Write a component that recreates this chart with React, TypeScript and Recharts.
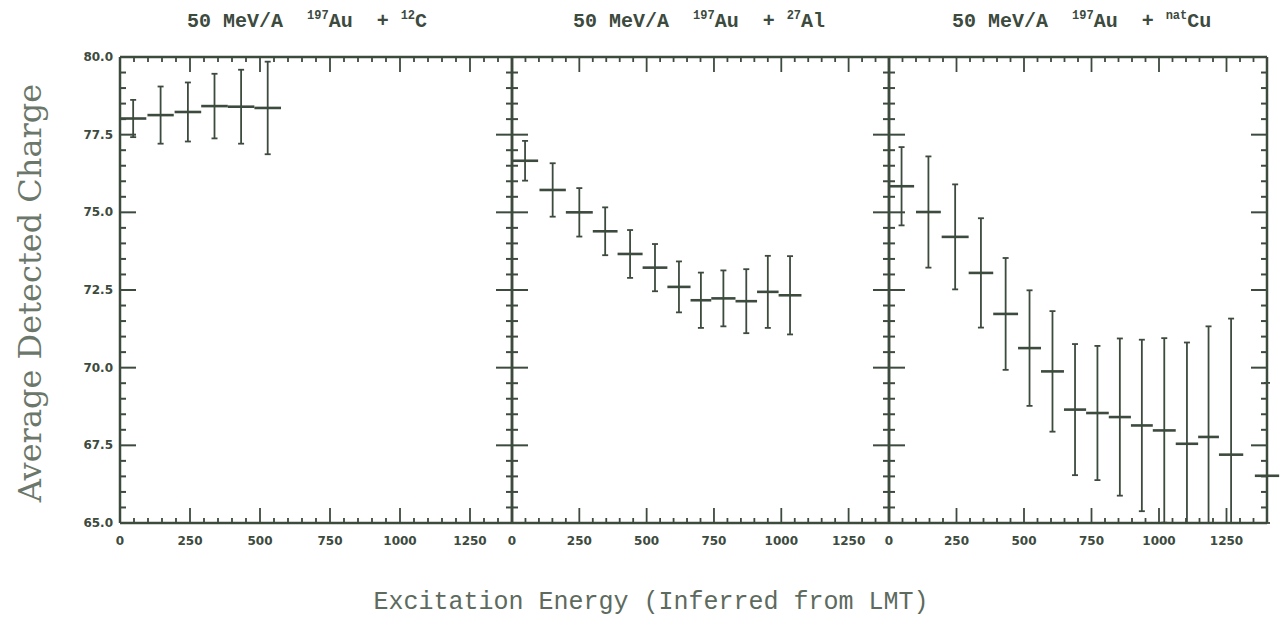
import React from 'react';
import { ScatterChart, Scatter, XAxis, YAxis, ErrorBar } from 'recharts';

// 50 MeV/A 197Au + 12C
const carbonBinLo = [0, 98, 195, 290, 385, 480];
const carbonBinHi = [94, 192, 290, 385, 480, 575];
const carbonCharge = [78.02, 78.13, 78.23, 78.42, 78.4, 78.36];
const carbonErr = [0.6, 0.92, 0.95, 1.04, 1.19, 1.49];

// 50 MeV/A 197Au + 27Al
const alBinLo = [0, 102, 200, 300, 392, 485, 577, 663, 740, 830, 910, 990];
const alBinHi = [97, 200, 300, 392, 485, 577, 663, 740, 830, 910, 990, 1075];
const alCharge = [76.66, 75.72, 75.0, 74.39, 73.66, 73.22, 72.6, 72.17, 72.23, 72.14, 72.44, 72.33];
const alErr = [0.64, 0.86, 0.78, 0.77, 0.77, 0.76, 0.82, 0.89, 0.9, 1.03, 1.16, 1.26];

// 50 MeV/A 197Au + natCu
const cuBinLo = [0, 100, 195, 295, 386, 478, 563, 648, 730, 814, 896, 977, 1062, 1145, 1222, 1355];
const cuBinHi = [93, 192, 295, 386, 478, 563, 648, 730, 814, 896, 977, 1062, 1145, 1222, 1312, 1445];
const cuCharge = [75.84, 75.01, 74.21, 73.05, 71.73, 70.63, 69.88, 68.65, 68.54, 68.41, 68.14, 67.98, 67.55, 67.77, 67.2, 66.52];
const cuErr = [1.26, 1.79, 1.69, 1.76, 1.8, 1.86, 1.94, 2.11, 2.16, 2.53, 2.76, 2.97, 3.26, 3.56, 4.38, 2.99];

const xMajorTicks = [0, 250, 500, 750, 1000, 1250];
const yMajorTicks = [65, 67.5, 70, 72.5, 75, 77.5, 80];

const INK = '#3d4a3e';
const X_MAX = 1400;
const Y_MIN = 65;
const Y_MAX = 80;
const PLOT_TOP = 57;
const PLOT_H = 466;
const AXIS_L = 40;
const AXIS_R = 20;
const AXIS_T = 20;
const AXIS_B = 30;

const xTicks: number[] = [];
for (let v = 0; v <= X_MAX; v += 50) xTicks.push(v);
const yTicks: number[] = [];
for (let v = Y_MIN; v <= Y_MAX + 0.001; v += 0.5) yTicks.push(Math.round(v * 10) / 10);

// error bars are cut off at the bottom frame, as in the original plot
function toRows(lo: number[], hi: number[], z: number[], err: number[]) {
  return z.map((v, i) => ({
    x: (lo[i] + hi[i]) / 2,
    z: v,
    xe: (hi[i] - lo[i]) / 2,
    ye: [Math.min(err[i], v - Y_MIN), err[i]],
  }));
}

const isMajorX = (v: number) => xMajorTicks.includes(v);
const isMajorY = (v: number) => yMajorTicks.includes(v);

const labelStyle = {
  fontFamily: '"DejaVu Sans", sans-serif',
  fontWeight: 700,
  fontSize: 12,
  fill: INK,
};

function BottomTick({ x, y, payload }: any) {
  const major = isMajorX(payload.value);
  return (
    <g>
      <line x1={x} x2={x} y1={y} y2={y - (major ? 15 : 5)} stroke={INK} strokeWidth={1.8} />
      {major && (
        <text x={x} y={y + 22} textAnchor="middle" style={labelStyle}>
          {payload.value}
        </text>
      )}
    </g>
  );
}

function TopTick({ x, y, payload }: any) {
  const major = isMajorX(payload.value);
  return <line x1={x} x2={x} y1={y} y2={y + (major ? 15 : 5)} stroke={INK} strokeWidth={1.8} />;
}

function makeLeftTick(showLabel: boolean) {
  return function LeftTick({ x, y, payload }: any) {
    const major = isMajorY(payload.value);
    return (
      <g>
        <line x1={x} x2={x + (major ? 16 : 6)} y1={y} y2={y} stroke={INK} strokeWidth={2} />
        {showLabel && major && (
          <text x={x - 7} y={y + 4} textAnchor="end" style={labelStyle}>
            {payload.value.toFixed(1)}
          </text>
        )}
      </g>
    );
  };
}

function RightTick({ x, y, payload }: any) {
  const major = isMajorY(payload.value);
  return <line x1={x} x2={x - (major ? 16 : 6)} y1={y} y2={y} stroke={INK} strokeWidth={2} />;
}

const axisLine = { stroke: INK, strokeWidth: 2.5 };

function Panel({ plotLeft, plotWidth, rows, showLabels }: any) {
  const LeftTick = makeLeftTick(showLabels);
  return (
    <div style={{ position: 'absolute', left: plotLeft - AXIS_L, top: PLOT_TOP - AXIS_T }}>
      <ScatterChart
        width={AXIS_L + plotWidth + AXIS_R}
        height={AXIS_T + PLOT_H + AXIS_B}
        margin={{ top: 0, right: 0, bottom: 0, left: 0 }}
      >
        <XAxis
          xAxisId="b"
          type="number"
          dataKey="x"
          orientation="bottom"
          domain={[0, X_MAX]}
          allowDataOverflow
          ticks={xTicks}
          interval={0}
          height={AXIS_B}
          tickSize={0}
          tickMargin={0}
          tickLine={false}
          axisLine={axisLine}
          tick={(p: any) => <BottomTick {...p} />}
        />
        <XAxis
          xAxisId="t"
          type="number"
          dataKey="x"
          orientation="top"
          domain={[0, X_MAX]}
          allowDataOverflow
          ticks={xTicks}
          interval={0}
          height={AXIS_T}
          tickSize={0}
          tickMargin={0}
          tickLine={false}
          axisLine={axisLine}
          tick={(p: any) => <TopTick {...p} />}
        />
        <YAxis
          yAxisId="l"
          type="number"
          dataKey="z"
          orientation="left"
          domain={[Y_MIN, Y_MAX]}
          allowDataOverflow
          ticks={yTicks}
          interval={0}
          width={AXIS_L}
          tickSize={0}
          tickMargin={0}
          tickLine={false}
          axisLine={axisLine}
          tick={(p: any) => <LeftTick {...p} />}
        />
        <YAxis
          yAxisId="r"
          type="number"
          dataKey="z"
          orientation="right"
          domain={[Y_MIN, Y_MAX]}
          allowDataOverflow
          ticks={yTicks}
          interval={0}
          width={AXIS_R}
          tickSize={0}
          tickMargin={0}
          tickLine={false}
          axisLine={axisLine}
          tick={(p: any) => <RightTick {...p} />}
        />
        <Scatter
          data={rows}
          xAxisId="t"
          yAxisId="r"
          isAnimationActive={false}
          shape={() => <g />}
        />
        <Scatter
          data={rows}
          xAxisId="b"
          yAxisId="l"
          isAnimationActive={false}
          shape={() => <g />}
        >
          <ErrorBar dataKey="xe" direction="x" width={0} stroke={INK} strokeWidth={2.6} />
          <ErrorBar dataKey="ye" direction="y" width={3} stroke={INK} strokeWidth={1.8} />
        </Scatter>
      </ScatterChart>
    </div>
  );
}

const titleStyle: React.CSSProperties = {
  position: 'absolute',
  top: 12,
  fontFamily: '"Liberation Mono", monospace',
  fontWeight: 700,
  fontSize: 20,
  lineHeight: '20px',
  color: INK,
  whiteSpace: 'pre',
};
const supStyle: React.CSSProperties = { fontSize: 12, position: 'relative', top: -8 };

function Title({ left, target }: { left: number; target: React.ReactNode }) {
  return (
    <div style={{ ...titleStyle, left }}>
      {'50 MeV/A  '}
      <span style={supStyle}>197</span>
      {'Au  + '}
      {target}
    </div>
  );
}

export default function App() {
  const carbonRows = toRows(carbonBinLo, carbonBinHi, carbonCharge, carbonErr);
  const alRows = toRows(alBinLo, alBinHi, alCharge, alErr);
  const cuRows = toRows(cuBinLo, cuBinHi, cuCharge, cuErr);

  return (
    <div
      style={{
        position: 'absolute',
        left: 0,
        top: 0,
        width: 1286,
        height: 635,
        background: '#fff',
        overflow: 'hidden',
      }}
    >
      <Title left={187} target={<><span style={supStyle}>12</span>C</>} />
      <Title left={573} target={<><span style={supStyle}>27</span>Al</>} />
      <Title left={952} target={<><span style={supStyle}>nat</span>Cu</>} />

      <Panel plotLeft={120} plotWidth={392} rows={carbonRows} showLabels />
      <Panel plotLeft={512} plotWidth={377} rows={alRows} showLabels={false} />
      <Panel plotLeft={889} plotWidth={378} rows={cuRows} showLabels={false} />

      <div
        style={{
          position: 'absolute',
          left: 30,
          top: 293,
          transform: 'translate(-50%, -50%) rotate(-90deg)',
          fontFamily: '"DejaVu Serif", serif',
          fontSize: 32,
          color: '#6b776b',
          whiteSpace: 'nowrap',
        }}
      >
        Average Detected Charge
      </div>
      <div
        style={{
          position: 'absolute',
          left: 651,
          top: 590,
          transform: 'translateX(-50%)',
          fontFamily: '"Liberation Mono", monospace',
          fontSize: 25,
          lineHeight: '25px',
          color: '#5d6a5e',
          whiteSpace: 'nowrap',
        }}
      >
        Excitation Energy (Inferred from LMT)
      </div>
    </div>
  );
}
